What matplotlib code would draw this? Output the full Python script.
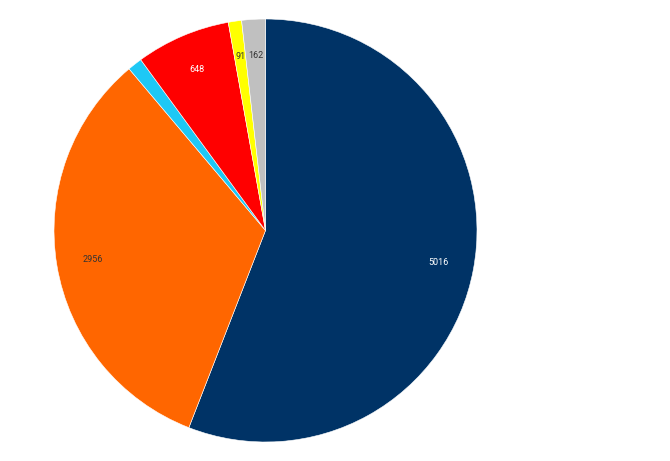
import matplotlib
matplotlib.use('Agg')
import matplotlib.pyplot as plt

values = [5016, 2956, 100, 648, 91, 162]
labels = ['5016', '2956', '', '648', '91', '162']
colors = ['#003366', '#ff6600', '#1ec8f5', '#ff0000', '#ffff00', '#c0c0c0']
text_colors = ['white', '#333333', '#333333', 'white', '#333333', '#333333']

fig = plt.figure(figsize=(6.7, 4.61), dpi=100)
ax = fig.add_axes([54 / 670, 19 / 461, 423 / 670, 423 / 461])

wedges, texts = ax.pie(values, colors=colors, startangle=90, counterclock=False,
                       labels=labels, labeldistance=0.83,
                       wedgeprops={'linewidth': 0.4, 'edgecolor': 'white'},
                       textprops={'fontsize': 6.5, 'family': 'Roboto'})
for t, c in zip(texts, text_colors):
    t.set_color(c)
    t.set_ha('center')
    t.set_va('center')
ax.set_xlim(-1, 1)
ax.set_ylim(-1, 1)
ax.set_aspect('equal')
ax.axis('off')

fig.savefig('out.png', dpi=100)
